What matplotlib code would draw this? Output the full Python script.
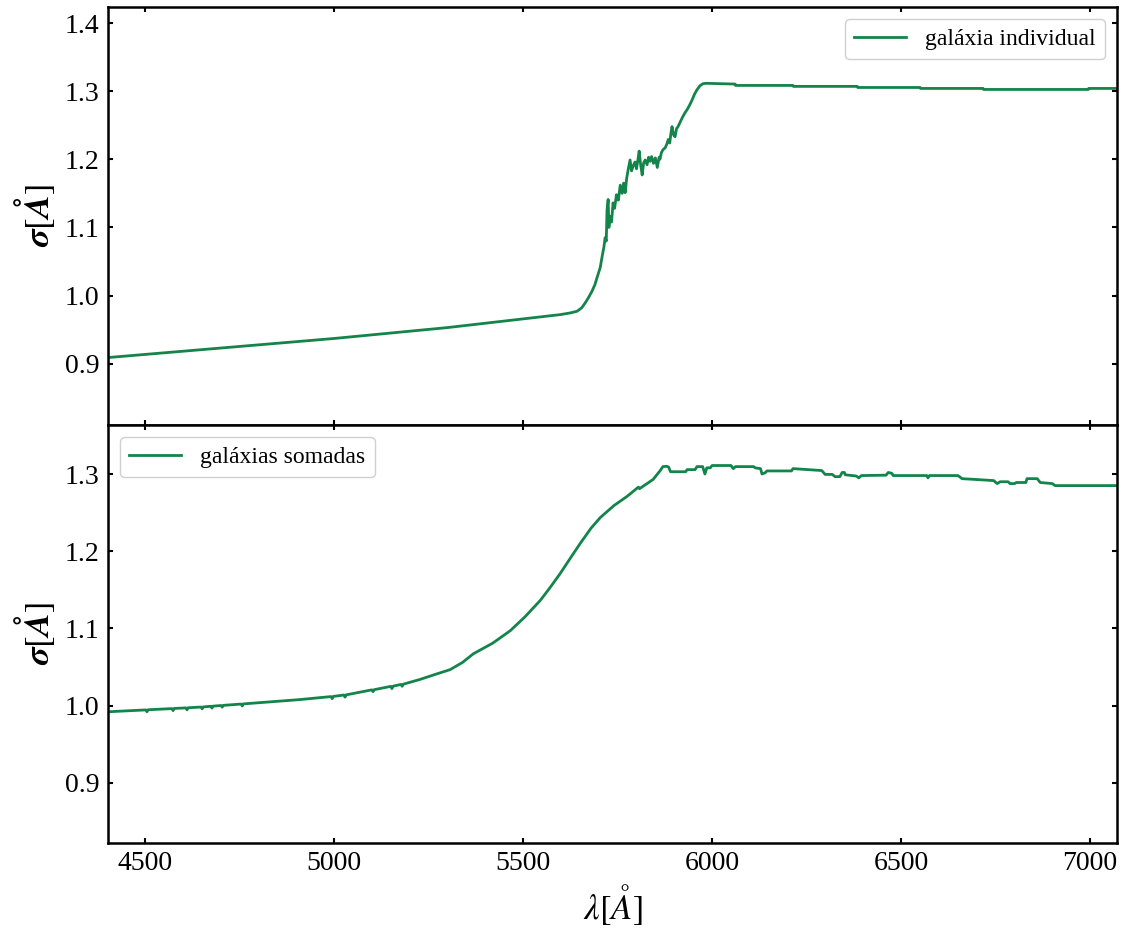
import matplotlib
matplotlib.use("Agg")
import matplotlib.pyplot as plt

plt.rcParams["font.family"] = ["Liberation Serif", "DejaVu Serif"]
plt.rcParams["mathtext.fontset"] = "stix"

LINE_COLOR = "#13844a"

# single galaxy: wavelength [A] and sigma [A]
lam_ind = [4402, 5000, 5300, 5598, 5625, 5643, 5655, 5664, 5672, 5682, 5690, 5696,
           5704, 5709, 5714,
           5717, 5720, 5722, 5725, 5727, 5730, 5734, 5738, 5742, 5747,
           5752, 5757, 5762, 5766, 5770, 5774, 5778, 5783, 5787, 5791,
           5796, 5800, 5804, 5807, 5811, 5815, 5819, 5823, 5828, 5832,
           5836, 5840, 5845, 5850, 5855, 5860, 5862, 5866, 5870, 5876,
           5880, 5884, 5888, 5891, 5894, 5898, 5902, 5906, 5910, 5915,
           5922, 5928, 5934, 5940, 5947, 5953, 5960, 5968, 5976, 5985,
           6061, 6062, 6214, 6215, 6384, 6385, 6550, 6551, 6717, 6718,
           6995, 6996, 7071]
sig_ind = [0.909, 0.937, 0.953, 0.972, 0.9745, 0.9770, 0.982, 0.989, 0.996, 1.006, 1.016, 1.027,
           1.041, 1.057, 1.072,
           1.085, 1.080, 1.125, 1.141, 1.100, 1.116, 1.108, 1.136, 1.128, 1.148,
           1.140, 1.162, 1.150, 1.165, 1.151, 1.172, 1.185, 1.199, 1.183, 1.190,
           1.196, 1.186, 1.200, 1.212, 1.192, 1.177, 1.195, 1.199, 1.192, 1.203,
           1.197, 1.204, 1.194, 1.202, 1.188, 1.203, 1.200, 1.210, 1.214, 1.217,
           1.222, 1.229, 1.224, 1.238, 1.248, 1.236, 1.233, 1.245, 1.248, 1.254,
           1.262, 1.268, 1.273, 1.279, 1.287, 1.295, 1.302, 1.308, 1.311, 1.3115,
           1.3104, 1.3084, 1.3084, 1.307, 1.307, 1.3054, 1.3054, 1.304, 1.304, 1.3025,
           1.3025, 1.304, 1.304]

# stacked galaxies
lam_sum = [4402, 4502, 4505, 4508, 4571, 4574, 4577, 4608, 4611, 4614,
           4648, 4651, 4654, 4674, 4677, 4680, 4701, 4704, 4707, 4754,
           4757, 4760, 4910, 4992, 4995, 4998, 5026, 5029, 5032, 5100,
           5103, 5106, 5150, 5153, 5156, 5177, 5180, 5183, 5228, 5265,
           5307, 5340, 5368, 5420, 5466, 5505, 5545, 5570, 5598, 5625,
           5651, 5680, 5704, 5740, 5775, 5805, 5808, 5844,
           5862, 5870, 5880, 5885, 5890, 5930, 5934, 5955, 5960, 5975,
           5981, 5986, 5995, 6000, 6050, 6056, 6062, 6110, 6114, 6128,
           6132, 6140, 6145, 6210, 6214, 6290, 6299, 6318, 6325, 6338,
           6344, 6350, 6352, 6380, 6384, 6388, 6395, 6460, 6466, 6475,
           6479, 6568, 6571, 6575, 6650, 6656, 6661, 6745, 6754, 6762,
           6783, 6788, 6800, 6805, 6830, 6833, 6860, 6868, 6900, 6907,
           7071]
sig_sum = [0.992, 0.9944, 0.992, 0.9946, 0.9961, 0.9935, 0.9963, 0.9970, 0.9945, 0.9972,
           0.9981, 0.9958, 0.9983, 0.9991, 0.9968, 0.9993, 1.0001, 0.998, 1.0003, 1.0020,
           0.9995, 1.0022, 1.0078, 1.0117, 1.009, 1.0119, 1.0137, 1.011, 1.0139, 1.0204,
           1.018, 1.0206, 1.0249, 1.022, 1.0251, 1.0274, 1.025, 1.0277, 1.034, 1.040,
           1.0466, 1.056, 1.067, 1.081, 1.097, 1.115, 1.136, 1.152, 1.171, 1.191,
           1.210, 1.230, 1.2435, 1.259, 1.271, 1.283, 1.281, 1.293,
           1.304, 1.3096, 1.310, 1.309, 1.303, 1.303, 1.3057, 1.3057, 1.3096, 1.3096,
           1.300, 1.308, 1.308, 1.311, 1.311, 1.307, 1.3096, 1.3096, 1.308, 1.307,
           1.300, 1.3015, 1.304, 1.304, 1.307, 1.3045, 1.2995, 1.2995, 1.2966, 1.2966,
           1.302, 1.302, 1.299, 1.2975, 1.2966, 1.295, 1.298, 1.2985, 1.302, 1.301,
           1.298, 1.298, 1.295, 1.298, 1.298, 1.296, 1.294, 1.2915, 1.2876, 1.290,
           1.290, 1.2876, 1.2876, 1.289, 1.289, 1.294, 1.294, 1.289, 1.2876, 1.285,
           1.285]

x_ticks = [4500, 5000, 5500, 6000, 6500, 7000]
top_yticks = [0.9, 1.0, 1.1, 1.2, 1.3, 1.4]
bot_yticks = [0.9, 1.0, 1.1, 1.2, 1.3]

fig, (ax1, ax2) = plt.subplots(2, 1, sharex=True, figsize=(11.31, 9.35), dpi=100)
fig.subplots_adjust(left=0.0955, right=0.9876, top=0.9925, bottom=0.0984, hspace=0)

ax1.plot(lam_ind, sig_ind, color=LINE_COLOR, lw=2, label="galáxia individual")
ax2.plot(lam_sum, sig_sum, color=LINE_COLOR, lw=2, label="galáxias somadas")

ax1.set_ylim(0.81, 1.4235)
ax2.set_ylim(0.822, 1.3635)
ax2.set_xlim(4402, 7071)
ax2.set_xticks(x_ticks)
ax1.set_yticks(top_yticks)
ax2.set_yticks(bot_yticks)

for ax in (ax1, ax2):
    ax.tick_params(direction="in", top=True, right=True, length=3.5, width=1.5,
                   labelsize=20, pad=6)
    for sp in ax.spines.values():
        sp.set_linewidth(1.8)
    ax.set_ylabel(r"$\mathbfit{\sigma}[\mathbfit{\AA}]$", fontsize=25, labelpad=6)

ax2.set_xlabel(r"$\lambda[\AA]$", fontsize=25, labelpad=4)

leg_kw = dict(fontsize=17, handlelength=2.2, handletextpad=0.8, borderpad=0.4,
              framealpha=1, edgecolor="#d0d0d0")
ax1.legend(loc="upper right", **leg_kw)
ax2.legend(loc="upper left", **leg_kw)

fig.savefig("out.png", dpi=100)
